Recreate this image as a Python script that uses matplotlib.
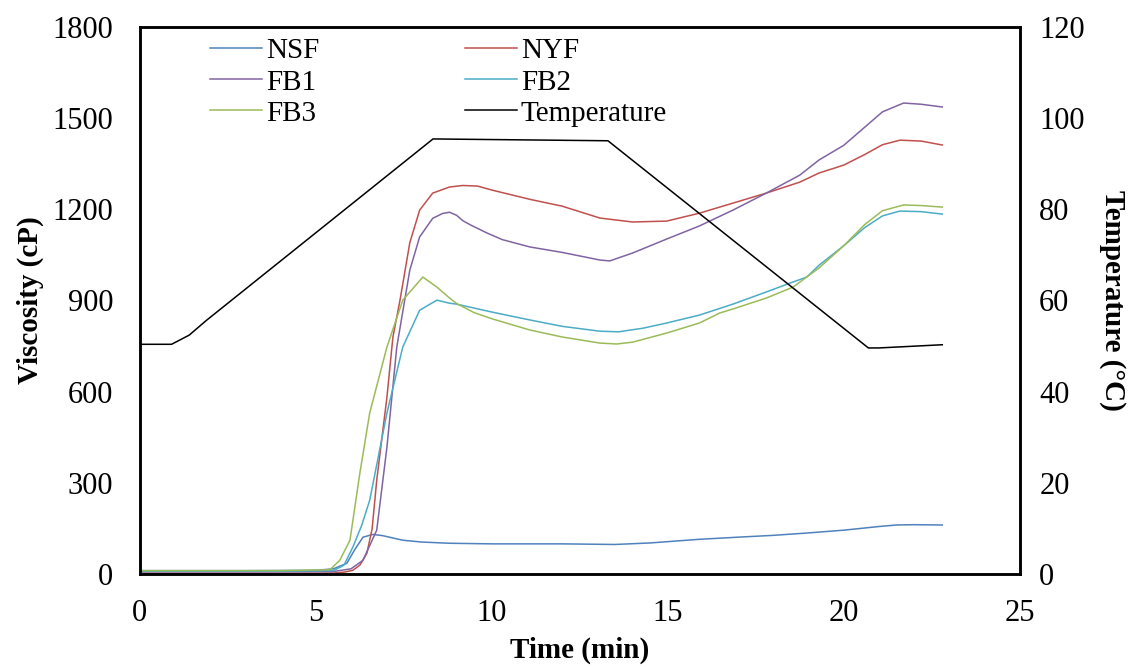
import matplotlib.pyplot as plt

plt.rcParams['font.family'] = ['Liberation Serif', 'DejaVu Serif']

# viscosity curves (cP) vs time (min)
t_nsf = [0, 1, 3, 5, 5.5, 5.88, 6.1, 6.34, 6.62, 6.9, 7.47, 8.0, 8.8, 10, 12, 13.5, 14.5, 15.9, 17, 18, 19, 20, 21, 21.5, 22, 22.8]
v_nsf = [12, 12, 12, 13, 18, 36, 80, 122, 131, 127, 112, 106, 102, 100, 100, 98, 103, 115, 122, 128, 136, 145, 157, 162, 163, 162]

t_nyf = [0, 2, 4, 5.5, 5.8, 6.05, 6.25, 6.45, 6.6, 6.73, 7.02, 7.19, 7.39, 7.67, 7.95, 8.32, 8.8, 9.18, 9.6, 10, 11.1, 12, 13.07, 14.0, 14.97, 15.9, 16.85, 17.8, 18.75, 19.3, 20.0, 20.6, 21.1, 21.6, 22.2, 22.8]
v_nyf = [3, 3, 3, 4, 7, 13, 30, 69, 150, 309, 582, 780, 900, 1090, 1197, 1253, 1273, 1278, 1276, 1263, 1232, 1210, 1171, 1158, 1161, 1187, 1220, 1253, 1289, 1319, 1345, 1380, 1412, 1427, 1424, 1411]

t_fb1 = [0, 2, 4, 5.5, 6.0, 6.34, 6.73, 7.02, 7.3, 7.67, 7.95, 8.32, 8.6, 8.8, 9.0, 9.18, 9.4, 9.86, 10.3, 11.08, 12, 13.07, 13.35, 14.0, 14.97, 15.9, 16.85, 17.8, 18.75, 19.3, 20.0, 20.6, 21.1, 21.7, 22.2, 22.8]
v_fb1 = [8, 8, 8, 9, 18, 46, 145, 418, 747, 1000, 1109, 1170, 1186, 1190, 1180, 1162, 1148, 1122, 1100, 1076, 1058, 1033, 1030, 1056, 1102, 1145, 1197, 1253, 1312, 1362, 1410, 1470, 1520, 1549, 1545, 1536]

t_fb2 = [0, 2, 4, 5.5, 5.8, 6.05, 6.3, 6.53, 7.02, 7.47, 7.95, 8.44, 8.8, 9.0, 9.5, 10, 11.08, 12, 13.07, 13.6, 14.3, 14.97, 15.9, 16.85, 17.8, 18.47, 18.95, 19.3, 20.0, 20.6, 21.1, 21.6, 22.2, 22.8]
v_fb2 = [10, 10, 10, 12, 30, 89, 160, 243, 530, 747, 868, 901, 891, 888, 875, 862, 836, 815, 799, 797, 809, 826, 852, 888, 928, 957, 977, 1016, 1080, 1140, 1178, 1194, 1192, 1184]

t_fb3 = [0, 2, 4, 5.4, 5.68, 5.97, 6.25, 6.53, 7.02, 7.47, 8.04, 8.44, 8.8, 9.0, 9.5, 10, 11.08, 12, 13.07, 13.55, 14.0, 14.97, 15.9, 16.48, 16.85, 17.8, 18.56, 19.3, 20.0, 20.6, 21.1, 21.7, 22.2, 22.8]
v_fb3 = [12, 12, 12, 15, 46, 112, 332, 530, 747, 901, 977, 944, 908, 890, 860, 840, 803, 780, 760, 757, 763, 793, 826, 859, 872, 908, 944, 1007, 1080, 1150, 1195, 1214, 1212, 1207]

# temperature (°C)
t_temp = [0, 0.9, 1.4, 1.9, 8.33, 13.3, 20.7, 21.0, 22.8]
v_temp = [50.4, 50.4, 52.4, 55.7, 95.4, 95.0, 49.6, 49.6, 50.3]

fig = plt.figure(figsize=(11.28, 6.67), dpi=100)
ax = fig.add_axes([0.124, 0.139, 0.78, 0.821])
ax2 = ax.twinx()

lw = 1.1
h_nsf, = ax.plot(t_nsf, v_nsf, color='#4F81BD', lw=lw, label='NSF')
h_nyf, = ax.plot(t_nyf, v_nyf, color='#C0504D', lw=lw, label='NYF')
h_fb1, = ax.plot(t_fb1, v_fb1, color='#8064A2', lw=lw, label='FB1')
h_fb2, = ax.plot(t_fb2, v_fb2, color='#4BACC6', lw=lw, label='FB2')
h_fb3, = ax.plot(t_fb3, v_fb3, color='#9BBB59', lw=lw, label='FB3')
h_tmp, = ax2.plot(t_temp, v_temp, color='black', lw=lw, label='Temperature')

ax.set_xlim(0, 25)
ax.set_ylim(0, 1800)
ax.set_xticks(range(0, 26, 5))
ax.set_yticks(range(0, 1801, 300))
ax2.set_ylim(0, 120)
ax2.set_yticks(range(0, 121, 20))

ax.tick_params(axis='x', length=0, pad=18, labelsize=22)
ax.tick_params(axis='y', length=0, pad=19, labelsize=22)
ax2.tick_params(axis='y', length=0, pad=14, labelsize=22)

for a in (ax, ax2):
    for s in a.spines.values():
        s.set_linewidth(1.8)

ax.set_xlabel('Time (min)', fontsize=21, fontweight='bold', labelpad=6)
ax.set_ylabel('Viscosity (cP)', fontsize=21, fontweight='bold', labelpad=6)
ax2.set_ylabel('Temperature (°C)', fontsize=21, fontweight='bold', rotation=-90, labelpad=30)

handles = [h_nsf, h_fb1, h_fb3, h_nyf, h_fb2, h_tmp]
ax2.legend(handles=handles, labels=[h.get_label() for h in handles], ncol=2,
           loc='upper left', bbox_to_anchor=(0.186, 0.943), bbox_transform=fig.transFigure,
           frameon=False, fontsize=21, handlelength=1.8, handletextpad=0.12,
           columnspacing=5.0, labelspacing=0.16, borderpad=0, borderaxespad=0)

fig.savefig('out.png', dpi=100)
